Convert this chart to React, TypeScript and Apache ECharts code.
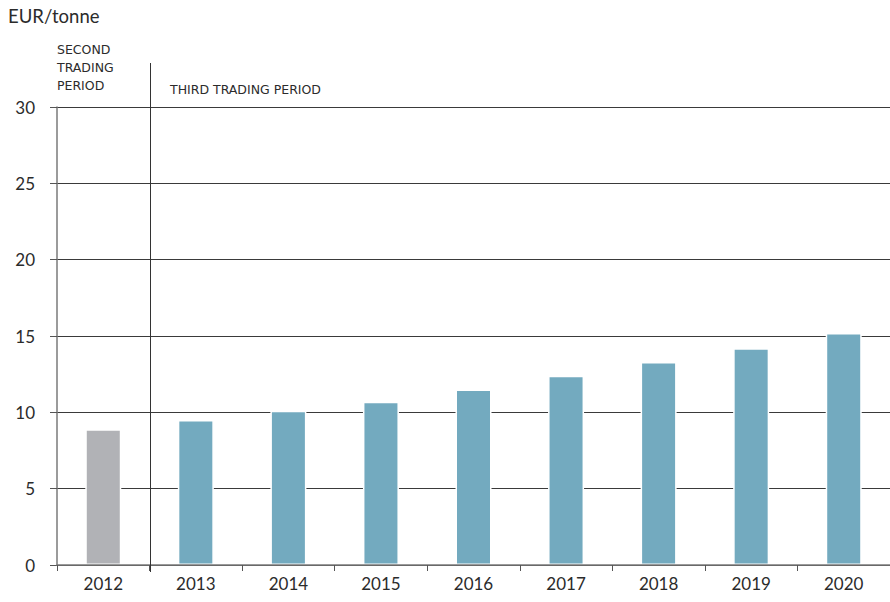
import React, { useEffect, useRef } from "react";
import * as echarts from "echarts";

const categories = ["2012", "2013", "2014", "2015", "2016", "2017", "2018", "2019", "2020"];
const prices = [8.9, 9.5, 10.1, 10.7, 11.5, 12.4, 13.3, 14.2, 15.2];
const periodOf = ["second", "third", "third", "third", "third", "third", "third", "third", "third"];
const yTicks = [0, 5, 10, 15, 20, 25, 30];
const unitLabel = "EUR/tonne";
const secondLabel = "SECOND\nTRADING\nPERIOD";
const thirdLabel = "THIRD TRADING PERIOD";

const FONT = "Lato, 'Open Sans', sans-serif";
const CAPS_FONT = "'DejaVu Sans', Lato, sans-serif";

export default function App() {
  const ref = useRef<HTMLDivElement>(null);
  useEffect(() => {
    if (!ref.current) return;
    const chart = echarts.init(ref.current, undefined, { renderer: "svg" });
    chart.setOption({
      animation: false,
      backgroundColor: "#ffffff",
      grid: { left: 57, right: -1, top: 107, bottom: 37, containLabel: false },
      xAxis: {
        type: "category",
        data: categories,
        z: 5,
        axisLine: { lineStyle: { color: "#7a7a7a", width: 1.5 } },
        axisTick: { show: true, length: 6, lineStyle: { color: "#555" } },
        axisLabel: { color: "#2b2b2b", fontSize: 17, fontFamily: FONT, margin: 10 },
      },
      yAxis: {
        type: "value",
        min: 0,
        max: 30,
        interval: 5,
        axisLine: { show: true, lineStyle: { color: "#7a7a7a", width: 1.5 } },
        axisTick: { show: true, length: 7, lineStyle: { color: "#555" } },
        axisLabel: {
          color: "#2b2b2b",
          fontSize: 17,
          fontFamily: FONT,
          margin: 22,
          formatter: (v: number) => (yTicks.includes(v) ? String(v) : ""),
        },
        splitLine: { show: true, lineStyle: { color: "#3a3a3a", width: 1 } },
      },
      series: [
        {
          type: "bar",
          barWidth: 36,
          data: prices.map((v, i) => ({
            value: v,
            itemStyle: { color: periodOf[i] === "second" ? "#b1b2b6" : "#73aabf" },
          })),
          itemStyle: { borderColor: "#ffffff", borderWidth: 1.5 },
        },
      ],
    });
    const p0 = chart.convertToPixel({ xAxisIndex: 0 }, 0) as number;
    const p1 = chart.convertToPixel({ xAxisIndex: 0 }, 1) as number;
    const sepX = Math.round((p0 + p1) / 2) + 0.5;
    const yBase = chart.convertToPixel({ yAxisIndex: 0 }, 0) as number;
    chart.setOption({
      graphic: [
        {
          type: "text",
          left: 8,
          top: 6,
          style: { text: unitLabel, fontSize: 18.5, fontFamily: FONT, fill: "#2b2b2b" },
        },
        {
          type: "line",
          shape: { x1: sepX, y1: 63, x2: sepX, y2: yBase + 7 },
          style: { stroke: "#333", lineWidth: 1 },
          z: 10,
        },
        {
          type: "text",
          left: 57,
          top: 40,
          style: {
            text: secondLabel,
            fontSize: 12.5,
            lineHeight: 18,
            fontFamily: CAPS_FONT,
            fill: "#2b2b2b",
          },
        },
        {
          type: "text",
          left: 170,
          top: 83,
          style: { text: thirdLabel, fontSize: 12.5, fontFamily: CAPS_FONT, fill: "#2b2b2b" },
        },
      ],
    });
    return () => chart.dispose();
  }, []);
  return (
    <div
      ref={ref}
      style={{ position: "fixed", left: 0, top: 0, width: 890, height: 602 }}
    />
  );
}
